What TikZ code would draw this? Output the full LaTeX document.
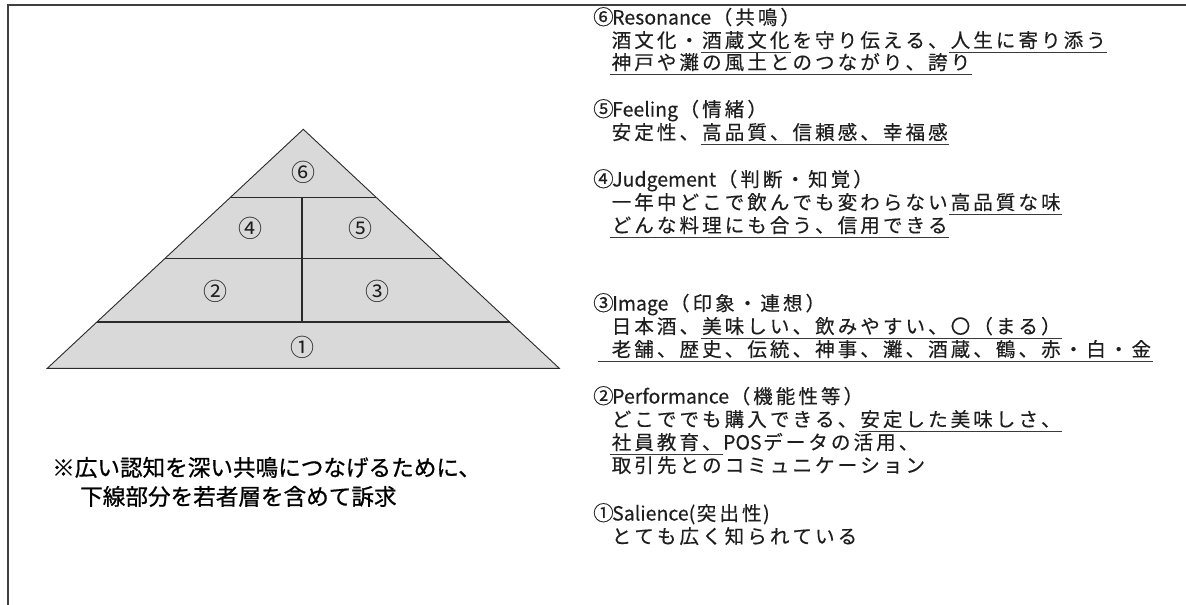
\documentclass[tikz,border=0pt]{standalone}
\usepackage{fontspec}
\setmainfont{Noto Sans CJK JP}
\newfontfamily\jpn{Noto Sans CJK JP}
\newfontfamily\jpr[FakeBold=0.3]{Noto Sans CJK JP}
\newfontfamily\jpnb[FakeBold=0.8]{Noto Sans CJK JP}
\definecolor{bordercol}{HTML}{404040}
\definecolor{pyrfill}{HTML}{D9D9D9}
\definecolor{pyrline}{HTML}{2A2A2A}
\definecolor{txtcol}{HTML}{1E1E1E}
\definecolor{ulcol}{HTML}{3A3A3A}
\newlength\cjw
\setlength\cjw{22.6pt}
\def\cj#1{\cjloop#1\relax}
\def\cjloop#1{\ifx#1\relax\else\makebox[\cjw][c]{#1}\expandafter\cjloop\fi}
\newcommand\cn[1]{\makebox[19pt][l]{\fontsize{20.5}{20.5}\selectfont #1}}
\newsavebox\ulbox
\newcommand\ulx[1]{\sbox\ulbox{#1}\rlap{\textcolor{ulcol}{\rule[-5.2pt]{\wd\ulbox}{1.1pt}}}\usebox\ulbox}
\tikzset{
  rt/.style={anchor=base west, inner sep=0pt, text=txtcol, font=\jpr\fontsize{19.5}{19.5}\selectfont},
  note/.style={anchor=base west, inner sep=0pt, text=black, font=\jpnb\fontsize{22.6}{22.6}\selectfont},
  plabel/.style={inner sep=0pt, text=txtcol, font=\jpn\fontsize{24}{24}\selectfont},
  pline/.style={draw=pyrline, line width=1.1pt}
}
\begin{document}
\begin{tikzpicture}[x=1pt,y=-1pt]
\useasboundingbox (0,0) rectangle (1186,605);
\fill[white] (0,0) rectangle (1186,605);
% frame
\coordinate (fb) at (7.5,605);
\coordinate (fc) at (7.5,5);
\coordinate (fr) at (1186,5);
\draw[bordercol, line width=2pt] (fb) -- (fc) -- (fr);
% pyramid
\coordinate (apex) at (303.3,129.3);
\coordinate (bl) at (47.3,368.3);
\coordinate (br) at (559.3,368.3);
\fill[pyrfill] (bl) -- (apex) -- (br) -- cycle;
\coordinate (l1a) at (96.9,322); \coordinate (l1b) at (509.7,322);
\coordinate (l2a) at (165.1,258.3); \coordinate (l2b) at (441.5,258.3);
\coordinate (l3a) at (230.5,197.3); \coordinate (l3b) at (376.1,197.3);
\coordinate (vt) at (302,197.3); \coordinate (vb) at (302,322);
\draw[pline] (l1a) -- (l1b);
\draw[pline] (l2a) -- (l2b);
\draw[pline] (l3a) -- (l3b);
\draw[pline] (vt) -- (vb);
\draw[draw=pyrline, line width=0.9pt, line join=miter] (bl) -- (apex) -- (br) -- cycle;
\node[plabel] (p6) at (303,172) {⑥};
\node[plabel] (p4) at (250,228) {④};
\node[plabel] (p5) at (360,228) {⑤};
\node[plabel] (p2) at (215,291) {②};
\node[plabel] (p3) at (377,291) {③};
\node[plabel] (p1) at (302,347) {①};
% right texts
\node[rt] (h6) at (593,24.5) {\cn{⑥}Resonance\cj{（共鳴）}};
\node[rt] (t6a) at (610,47.5) {\cj{酒文化・}\ulx{\cj{酒蔵文化}}\cj{を守り伝える、}\ulx{\cj{人生に寄り添う}}};
\node[rt] (t6b) at (610,69.5) {\ulx{\cj{神戸や灘の風土とのつながり、誇り}}};
\node[rt] (h5) at (593,116.5) {\cn{⑤}Feeling\cj{（情緒）}};
\node[rt] (t5a) at (610,139.5) {\cj{安定性、}\ulx{\cj{高品質、信頼感、幸福感}}};
\node[rt] (h4) at (593,186.5) {\cn{④}Judgement\cj{（判断・知覚）}};
\node[rt] (t4a) at (610,209.5) {\cj{一年中どこで飲んでも変わらない}\ulx{\cj{高品質な味}}};
\node[rt] (t4b) at (610,232.5) {\ulx{\cj{どんな料理にも合う、信用できる}}};
\node[rt] (h3) at (593,310.5) {\cn{③}Image\cj{（印象・連想）}};
\node[rt] (t3a) at (610,333.5) {\cj{日本酒、}\ulx{\cj{美味しい、飲みやすい、〇（まる）}}};
\node[rt] (t3b) at (598,356.5) {\ulx{\hspace*{12pt}\cj{老舗、歴史、伝統、神事、灘、酒蔵、鶴、赤・白・金}}};
\node[rt] (h2) at (593,403.5) {\cn{②}Performance\cj{（機能性等）}};
\node[rt] (t2a) at (610,426.5) {\cj{どこででも購入できる、}\ulx{\cj{安定した美味しさ、}}};
\node[rt] (t2b) at (610,449.5) {\ulx{\cj{社員教育、}}POS\cj{データの活用、}};
\node[rt] (t2c) at (610,472.5) {\cj{取引先とのコミュニケーション}};
\node[rt] (h1) at (593,520.5) {\cn{①}Salience(\cj{突出性})};
\node[rt] (t1a) at (610,543.5) {\cj{とても広く知られている}};
% note
\node[note] (n1) at (52,476) {※広い認知を深い共鳴につなげるために、};
\node[note] (n2) at (80,505) {下線部分を若者層を含めて訴求};
\end{tikzpicture}
\end{document}
